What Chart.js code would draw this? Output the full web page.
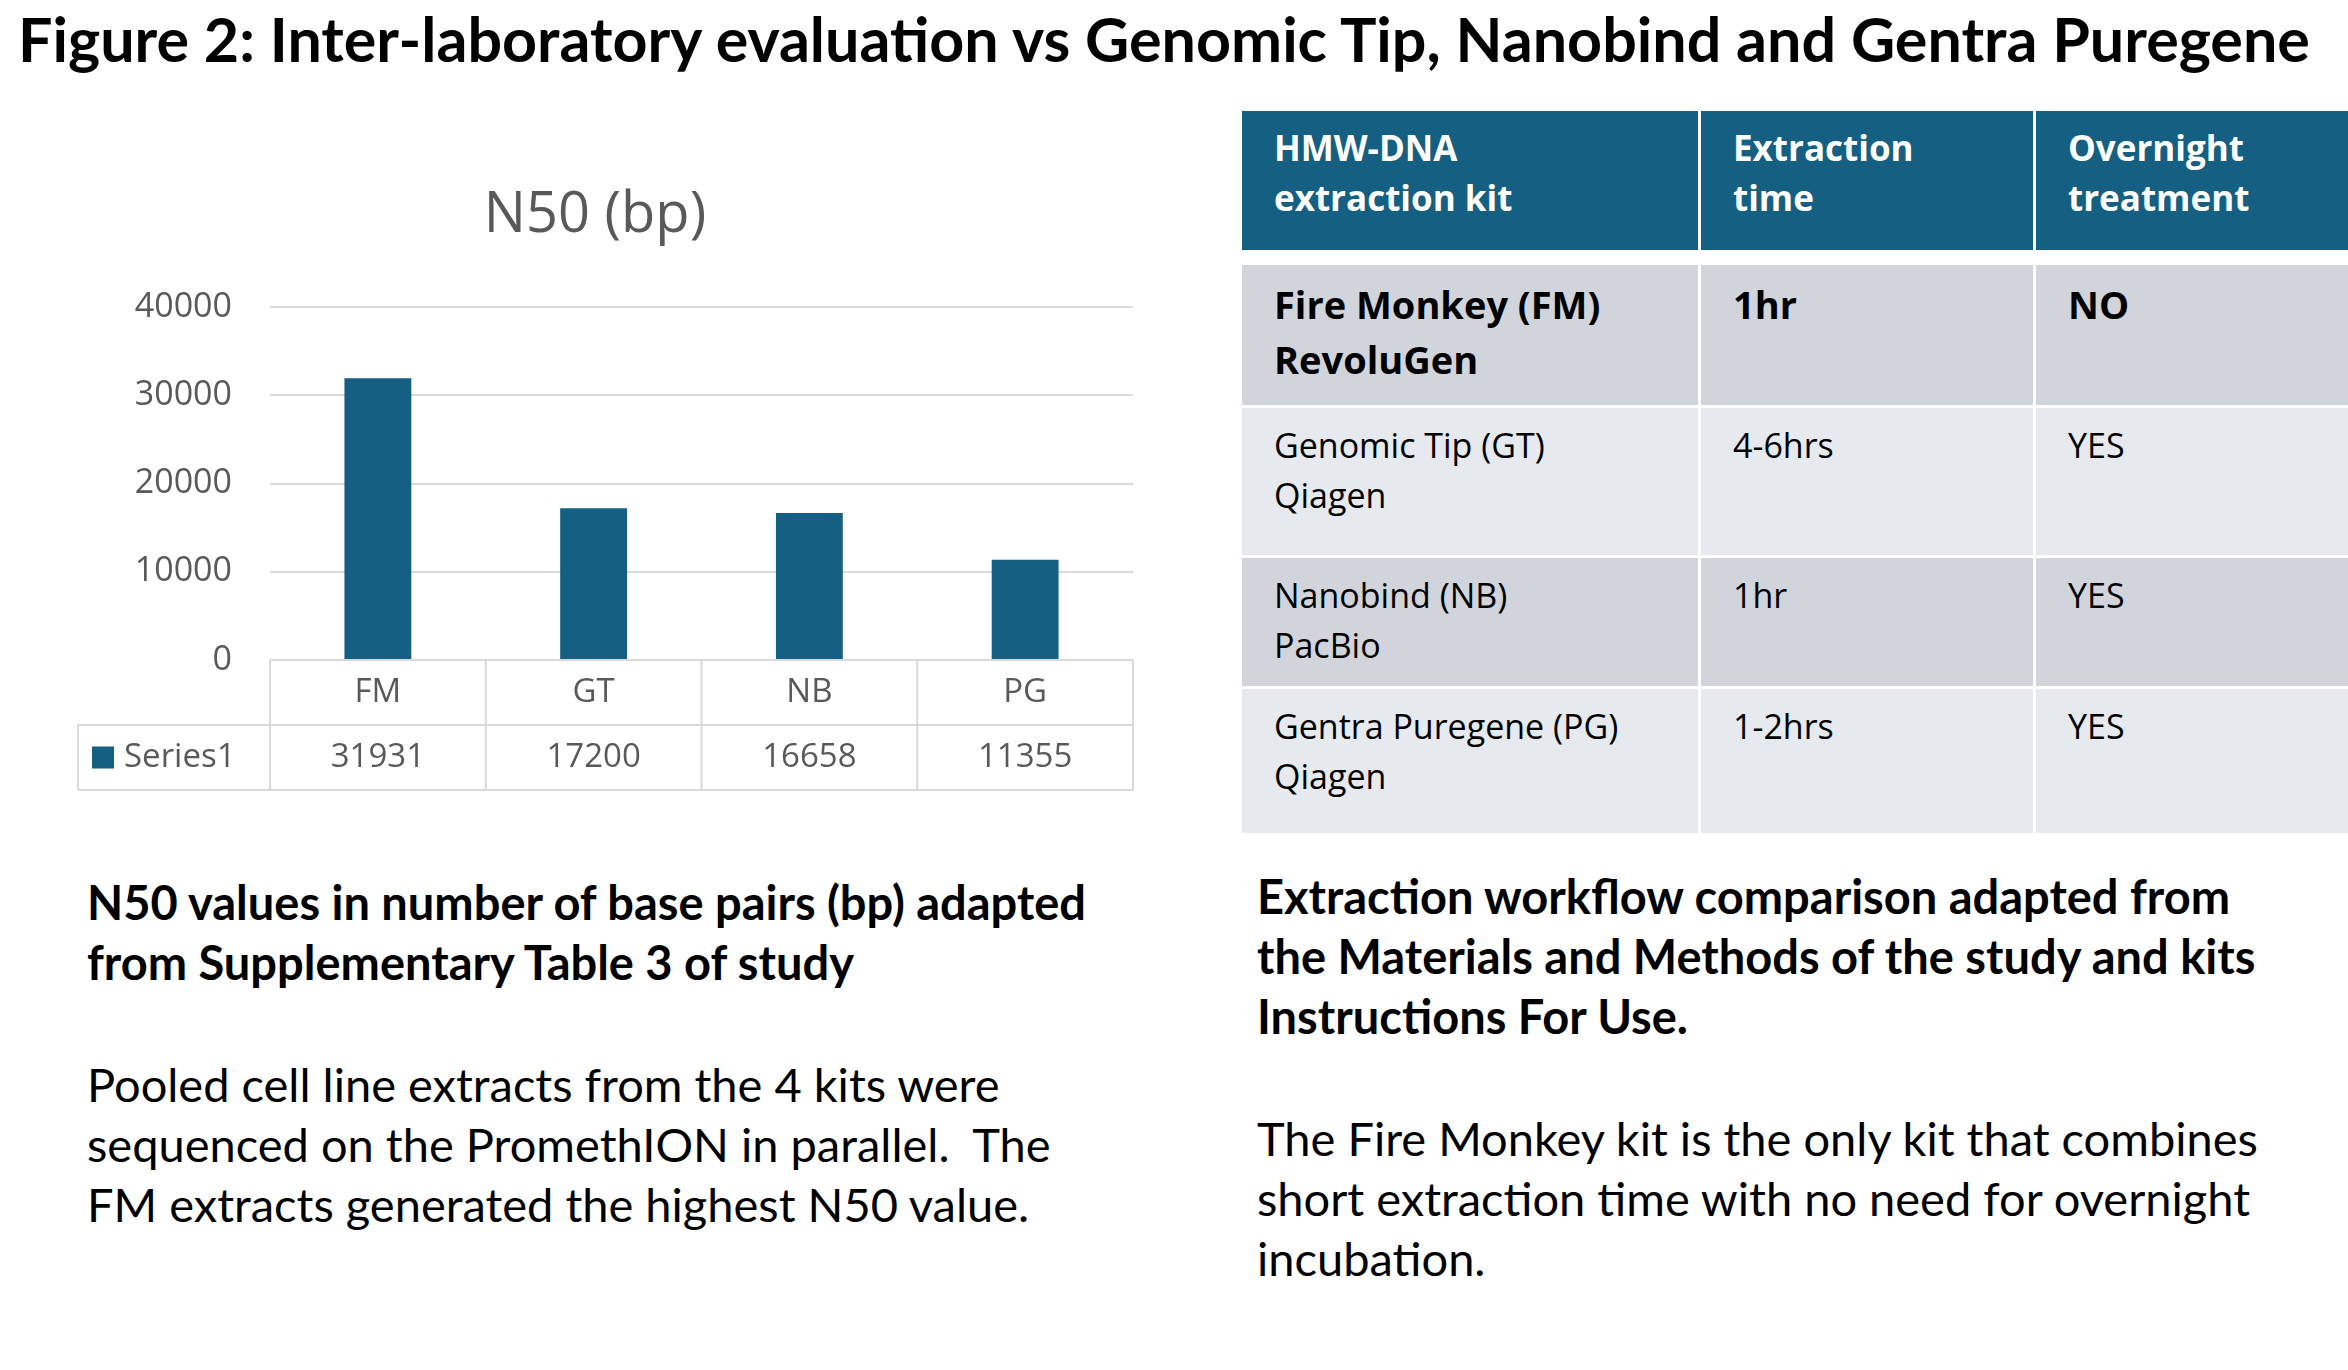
<!DOCTYPE html>
<html><head><meta charset="utf-8">
<script src="https://cdn.jsdelivr.net/npm/chart.js@4"></script>
<style>
body{margin:0;width:2348px;height:1370px;background:#fff;position:relative;overflow:hidden;font-family:Lato,sans-serif;color:#000}
.abs{position:absolute;white-space:nowrap}
#title{left:18px;top:2px;font-weight:bold;font-size:61px}
#chartBox{position:absolute;left:0;top:0;width:1200px;height:830px}
#ctitle{left:0;width:1190px;text-align:center;top:172px;font-size:56px;color:#595959;font-family:"Open Sans",sans-serif}
.cell{position:absolute;box-sizing:border-box;padding:12px 32px;font-family:"Open Sans",sans-serif;font-size:34px;line-height:50px;white-space:nowrap}
.h{background:#156082;color:#fff;font-weight:bold;font-size:35px}
.d{background:#d1d5db}
.l{background:#e6e9ed}
.bold{font-weight:bold;font-size:38px;line-height:55px}
.cap{font-size:47px;line-height:60px}
.b{font-weight:bold}
</style></head><body>
<div class="abs" id="title">Figure 2: Inter-laboratory evaluation vs Genomic Tip, Nanobind and Gentra Puregene</div>
<div class="abs" id="ctitle">N50 (bp)</div>
<div id="chartBox"><canvas id="c"></canvas></div>
<div id="tbl"></div>
<div class="abs cap b" style="left:87px;top:872px">N50 values in number of base pairs (bp) adapted<br>from Supplementary Table 3 of study</div>
<div class="abs cap" style="left:87px;top:1054px">Pooled cell line extracts from the 4 kits were<br>sequenced on the PromethION in parallel.&nbsp; The<br>FM extracts generated the highest N50 value.</div>
<div class="abs cap b" style="left:1257px;top:866px">Extraction workflow comparison adapted from<br>the Materials and Methods of the study and kits<br>Instructions For Use.</div>
<div class="abs cap" style="left:1257px;top:1108px">The Fire Monkey kit is the only kit that combines<br>short extraction time with no need for overnight<br>incubation.</div>
<script>
const categories = ["FM", "GT", "NB", "PG"];
const seriesName = "Series1";
const n50Values = [31931, 17200, 16658, 11355];
const barColor = "#156082";
const gridColor = "#d9d9d9";

const tableHeader = ["HMW-DNA<br>extraction kit", "Extraction<br>time", "Overnight<br>treatment"];
const tableRows = [
  ["Fire Monkey (FM)<br>RevoluGen", "1hr", "NO"],
  ["Genomic Tip (GT)<br>Qiagen", "4-6hrs", "YES"],
  ["Nanobind (NB)<br>PacBio", "1hr", "YES"],
  ["Gentra Puregene (PG)<br>Qiagen", "1-2hrs", "YES"]
];

// table layout
const colX = [1242, 1701, 2036], colW = [456, 332, 312];
const rowY = [111, 265, 408, 558, 689], rowH = [139, 140, 147, 128, 144];
let html = "";
[tableHeader].concat(tableRows).forEach((row, r) => {
  const cls = r === 0 ? "h" : (r % 2 ? "d" : "l") + (r === 1 ? " bold" : "");
  row.forEach((t, c) => {
    html += `<div class="cell ${cls}" style="left:${colX[c]}px;top:${rowY[r]}px;width:${colW[c]}px;height:${rowH[r]}px">${t}</div>`;
  });
});
document.getElementById("tbl").innerHTML = html;

const dataTable = {
  id: "dataTable",
  afterDraw(chart) {
    const {ctx, chartArea: a, scales: {x}} = chart;
    const rh = 65, left = 78;
    const step = (a.right - a.left) / categories.length;
    ctx.save();
    ctx.strokeStyle = gridColor; ctx.lineWidth = 2;
    ctx.beginPath();
    ctx.moveTo(left, a.bottom + rh); ctx.lineTo(a.right, a.bottom + rh);
    ctx.moveTo(left, a.bottom + rh); ctx.lineTo(left, a.bottom + 2 * rh);
    ctx.moveTo(left, a.bottom + 2 * rh); ctx.lineTo(a.right, a.bottom + 2 * rh);
    for (let i = 0; i <= categories.length; i++) {
      const px = a.left + i * step;
      ctx.moveTo(px, a.bottom); ctx.lineTo(px, a.bottom + 2 * rh);
    }
    ctx.stroke();
    ctx.fillStyle = "#595959";
    ctx.font = "33px 'Open Sans'";
    ctx.textAlign = "center"; ctx.textBaseline = "middle";
    categories.forEach((c, i) => {
      const px = x.getPixelForValue(i);
      ctx.fillText(c, px, a.bottom + rh / 2);
      ctx.fillText(String(n50Values[i]), px, a.bottom + rh * 1.5);
    });
    ctx.fillStyle = barColor;
    ctx.fillRect(92, a.bottom + rh * 1.5 - 11, 22, 22);
    ctx.fillStyle = "#595959"; ctx.textAlign = "left";
    ctx.fillText(seriesName, 124, a.bottom + rh * 1.5);
    ctx.restore();
  }
};

new Chart(document.getElementById("c"), {
  type: "bar",
  data: { labels: categories, datasets: [{ label: seriesName, data: n50Values, backgroundColor: barColor,
    categoryPercentage: 1, barPercentage: 0.31 }] },
  options: {
    responsive: true, maintainAspectRatio: false, animation: false,
    layout: { padding: { top: 307, bottom: 170, right: 67, left: 0 } },
    plugins: { legend: { display: false }, tooltip: { enabled: false } },
    scales: {
      x: { display: false },
      y: { min: 0, max: 40000, border: { display: false },
        afterFit(s) { s.width = 270; },
        ticks: { stepSize: 10000, color: "#595959", font: { size: 34, family: "Open Sans" }, padding: 38,
          callback: v => String(v) },
        grid: { color: gridColor, lineWidth: 2, drawTicks: false } }
    }
  },
  plugins: [dataTable]
});
</script>
</body></html>
